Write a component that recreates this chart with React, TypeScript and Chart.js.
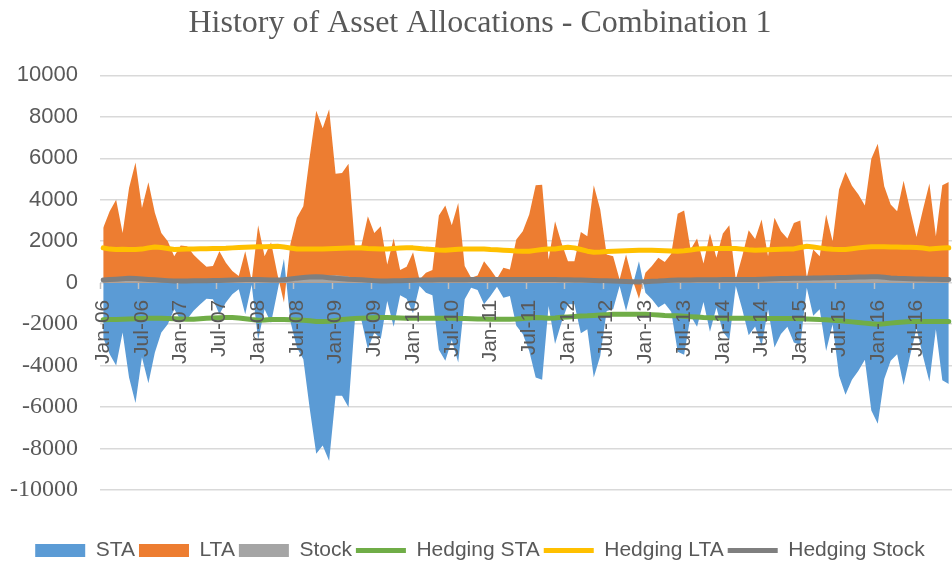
import React, { useEffect, useRef } from "react";
import { Chart, registerables } from "chart.js";

Chart.register(...registerables);

const TITLE = "History of Asset Allocations - Combination 1";
const MONTHS = ["Jan", "Feb", "Mar", "Apr", "May", "Jun", "Jul", "Aug", "Sep", "Oct", "Nov", "Dec"];
const YEARS = ["06", "07", "08", "09", "10", "11", "12", "13", "14", "15", "16"];
const CATEGORIES = YEARS.flatMap((y) => MONTHS.map((m) => `${m}-${y}`));

const STA = [
  -2650, -3450, -4000, -2400, -4570, -5800, -3600, -4850, -3370, -2400, -2000, -1280,
  -1800, -1760, -1350, -1050, -770, -800, -1520, -960, -560, -320, -1520, -100,
  -2770, -1280, -1950, -400, 1150, -1870, -3130, -3690, -6090, -8250, -7850, -8600,
  -5450, -5450, -6010, -1760, -1800, -3200, -2400, -2720, -880, -2130, -610, -770,
  -1470, -160, -480, -610, -3240, -3770, -2770, -3850, -800, -240, -350, -1040,
  -640, -190, -720, -640, -2080, -2480, -3290, -4570, -4680, -1120, -2960, -1920,
  -1040, -1040, -2440, -2240, -4570, -3530, -1360, -1280, -160, -1360, -160, 1040,
  -480, -800, -1200, -1000, -1400, -3330, -3480, -1600, -2130, -930, -2370, -1200,
  -2370, -2770, -160, -1280, -2530, -2110, -3050, -1280, -3130, -2480, -2130, -2880,
  -3000, -240, -1600, -1280, -3290, -2000, -4490, -5400, -4680, -4250, -3720, -6170,
  -6810, -4650, -3770, -3450, -4940, -3530, -2210, -3530, -4780, -2240, -4700, -4890,
];

const LTA = [
  2650, 3450, 4000, 2400, 4570, 5800, 3600, 4850, 3370, 2400, 2000, 1280,
  1800, 1760, 1350, 1050, 770, 800, 1520, 960, 560, 320, 1520, 100,
  2770, 1280, 1950, 400, -950, 1870, 3130, 3690, 6090, 8300, 7450, 8370,
  5260, 5290, 5740, 1760, 1800, 3200, 2400, 2720, 880, 2130, 610, 770,
  1470, 160, 480, 610, 3240, 3730, 2770, 3850, 800, 240, 350, 1040,
  640, 190, 720, 640, 2080, 2480, 3290, 4700, 4730, 1120, 2960, 1920,
  1040, 1040, 2440, 2240, 4700, 3530, 1360, 1280, 160, 1360, 160, -770,
  480, 800, 1200, 1000, 1400, 3330, 3480, 1600, 2130, 930, 2370, 1200,
  2370, 2770, 160, 1280, 2530, 2110, 3050, 1280, 3130, 2480, 2130, 2880,
  3000, 240, 1600, 1280, 3290, 2000, 4490, 5340, 4680, 4250, 3720, 5980,
  6700, 4650, 3770, 3450, 4920, 3530, 2210, 3530, 4780, 2240, 4700, 4860,
];

const STOCK = [
  100, 120, 140, 160, 180, 170, 150, 130, 110, 90, 70, 60,
  60, 65, 70, 75, 80, 85, 90, 100, 110, 120, 140, 130,
  130, 120, 115, 110, 120, 160, 200, 240, 280, 300, 320, 350,
  360, 340, 300, 200, 150, 110, 90, 70, 70, 80, 90, 100,
  100, 110, 110, 115, 120, 120, 120, 125, 125, 130, 130, 130,
  130, 130, 135, 135, 135, 140, 140, 140, 140, 135, 130, 125,
  120, 115, 110, 100, 90, 80, 70, 60, 50, 40, 30, 20,
  40, 60, 70, 90, 100, 110, 110, 115, 120, 120, 125, 125,
  130, 130, 135, 135, 140, 140, 150, 160, 170, 180, 185, 190,
  195, 200, 205, 210, 215, 220, 225, 230, 240, 250, 270, 300,
  320, 330, 290, 230, 190, 170, 160, 155, 150, 145, 140, 140,
];

const HEDGING_STA = [
  -1790, -1780, -1770, -1760, -1750, -1740, -1730, -1720, -1715, -1720, -1730, -1740,
  -1750, -1760, -1760, -1740, -1720, -1700, -1690, -1680, -1680, -1700, -1740, -1780,
  -1810, -1800, -1780, -1770, -1780, -1790, -1795, -1810, -1840, -1870, -1875, -1860,
  -1820, -1780, -1750, -1730, -1715, -1700, -1690, -1680, -1680, -1690, -1700, -1710,
  -1710, -1715, -1715, -1720, -1715, -1715, -1720, -1725, -1730, -1740, -1750, -1755,
  -1760, -1760, -1760, -1760, -1750, -1730, -1700, -1680, -1690, -1715, -1700, -1670,
  -1650, -1630, -1610, -1600, -1580, -1560, -1540, -1520, -1520, -1520, -1520, -1520,
  -1520, -1540, -1560, -1580, -1590, -1600, -1620, -1640, -1660, -1680, -1690, -1700,
  -1710, -1715, -1715, -1720, -1720, -1725, -1725, -1725, -1730, -1730, -1730, -1730,
  -1740, -1750, -1760, -1780, -1790, -1810, -1830, -1860, -1890, -1920, -1950, -1980,
  -2000, -1980, -1950, -1920, -1900, -1875, -1870, -1870, -1870, -1875, -1875, -1875,
];

const HEDGING_LTA = [
  1680, 1620, 1600, 1610, 1600, 1600, 1620, 1680, 1720, 1700, 1650, 1600,
  1610, 1620, 1630, 1640, 1640, 1650, 1650, 1660, 1680, 1700, 1710, 1720,
  1730, 1740, 1750, 1760, 1720, 1670, 1630, 1620, 1620, 1630, 1630, 1640,
  1650, 1660, 1670, 1680, 1670, 1650, 1640, 1630, 1630, 1650, 1670, 1680,
  1680, 1650, 1620, 1600, 1580, 1570, 1590, 1610, 1630, 1630, 1630, 1620,
  1600, 1590, 1570, 1550, 1530, 1520, 1520, 1560, 1600, 1630, 1630, 1670,
  1710, 1680, 1600, 1520, 1470, 1480, 1500, 1520, 1530, 1540, 1550, 1560,
  1570, 1560, 1550, 1540, 1530, 1520, 1540, 1580, 1630, 1640, 1640, 1650,
  1650, 1650, 1650, 1620, 1590, 1570, 1580, 1590, 1600, 1610, 1620, 1630,
  1700, 1760, 1720, 1680, 1640, 1610, 1600, 1600, 1640, 1680, 1710, 1730,
  1740, 1730, 1720, 1720, 1710, 1710, 1700, 1670, 1630, 1650, 1670, 1680,
];

const HEDGING_STOCK = [
  130, 150, 170, 190, 210, 200, 180, 160, 140, 120, 100, 80,
  80, 85, 90, 95, 100, 105, 110, 120, 130, 140, 160, 150,
  150, 140, 135, 130, 140, 180, 220, 250, 280, 290, 270, 240,
  210, 190, 170, 160, 140, 120, 100, 80, 80, 90, 100, 110,
  120, 130, 130, 135, 140, 140, 140, 145, 145, 150, 150, 150,
  150, 150, 155, 155, 155, 160, 160, 160, 160, 155, 150, 145,
  140, 135, 130, 120, 110, 100, 90, 80, 70, 60, 45, 30,
  50, 70, 80, 100, 115, 130, 130, 135, 140, 140, 145, 145,
  150, 150, 155, 155, 160, 160, 170, 180, 190, 200, 205, 210,
  215, 220, 225, 230, 235, 240, 245, 250, 260, 270, 280, 290,
  285, 260, 230, 210, 200, 190, 180, 175, 170, 165, 160, 160,
];

const TEXT = "#595959";
const SANS = "'Liberation Sans', Arial, sans-serif";
const SERIF = "'Liberation Serif', 'Times New Roman', serif";

export default function App() {
  const ref = useRef<HTMLCanvasElement | null>(null);

  useEffect(() => {
    if (!ref.current) return;
    const area = (label: string, data: number[], color: string, order: number) => ({
      type: "line" as const,
      label,
      data,
      backgroundColor: color,
      borderColor: "rgba(0,0,0,0)",
      borderWidth: 0,
      fill: "origin",
      pointRadius: 0,
      pointHoverRadius: 0,
      pointStyle: "rect",
      tension: 0,
      order,
    });
    const line = (label: string, data: number[], color: string, order: number) => ({
      type: "line" as const,
      label,
      data,
      backgroundColor: color,
      borderColor: color,
      borderWidth: 5,
      borderJoinStyle: "round",
      borderCapStyle: "round",
      fill: false,
      pointRadius: 0,
      pointHoverRadius: 0,
      pointStyle: "line",
      tension: 0,
      order,
    });

    const chart = new Chart(ref.current, {
      type: "line",
      data: {
        labels: CATEGORIES,
        datasets: [
          area("STA", STA, "#5b9bd5", 6),
          area("LTA", LTA, "#ed7d31", 5),
          area("Stock", STOCK, "#a5a5a5", 4),
          line("Hedging STA", HEDGING_STA, "#70ad47", 3),
          line("Hedging LTA", HEDGING_LTA, "#ffc000", 2),
          line("Hedging Stock", HEDGING_STOCK, "#7f7f7f", 1),
        ] as any,
      },
      options: {
        responsive: false,
        animation: false,
        layout: { padding: { left: 8, right: 0, top: 0, bottom: -4 } },
        plugins: {
          title: {
            display: true,
            text: TITLE,
            color: TEXT,
            font: { family: SERIF, size: 32, weight: "normal" },
            padding: { top: 4, bottom: 33 },
          },
          legend: {
            display: true,
            position: "bottom",
            title: {
              display: true,
              text: "",
              font: { size: 10 },
              padding: { top: 34, bottom: 0 },
            },
            labels: {
              usePointStyle: true,
              pointStyleWidth: 50,
              boxHeight: 13,
              padding: 4,
              color: TEXT,
              font: { family: SANS, size: 21 },
              sort: (a: any, b: any) => a.datasetIndex - b.datasetIndex,
            },
          },
          tooltip: { enabled: false },
        },
        scales: {
          x: {
            type: "category",
            position: { y: 0 } as any,
            offset: true,
            afterFit: (s: any) => {
              s.paddingLeft = 0;
              s.paddingRight = 0;
              s.paddingTop = 0;
              s.paddingBottom = 0;
            },
            grid: {
              display: true,
              z: 1,
              offset: true,
              drawOnChartArea: false,
              drawTicks: true,
              tickLength: 6,
              tickWidth: 1.5,
              tickColor: (ctx: any) => (ctx.index % 6 === 0 ? "#bfbfbf" : "rgba(0,0,0,0)"),
            },
            border: { display: false },
            ticks: {
              z: 1,
              autoSkip: false,
              maxRotation: 90,
              minRotation: 90,
              padding: 11,
              color: TEXT,
              font: { family: SANS, size: 21 },
              callback: (_v: any, i: number) => (i % 6 === 0 ? CATEGORIES[i] : ""),
            },
          },
          y: {
            type: "linear",
            position: "left",
            min: -10000,
            max: 10000,
            afterFit: (s: any) => {
              s.width = 92;
            },
            grid: { color: "#d9d9d9", lineWidth: 1.5, drawTicks: false },
            border: { display: false },
            ticks: {
              stepSize: 2000,
              padding: 22,
              color: TEXT,
              font: (ctx: any) =>
                ctx.tick && ctx.tick.value < 0
                  ? { family: SERIF, size: 24 }
                  : { family: SANS, size: 22 },
              callback: (v: any) => String(v),
            },
          },
        },
      } as any,
    });
    return () => chart.destroy();
  }, []);

  return (
    <div style={{ position: "absolute", left: 0, top: 0, width: 952, height: 567, background: "#fff" }}>
      <canvas ref={ref} width={952} height={567} style={{ display: "block" }} />
    </div>
  );
}
